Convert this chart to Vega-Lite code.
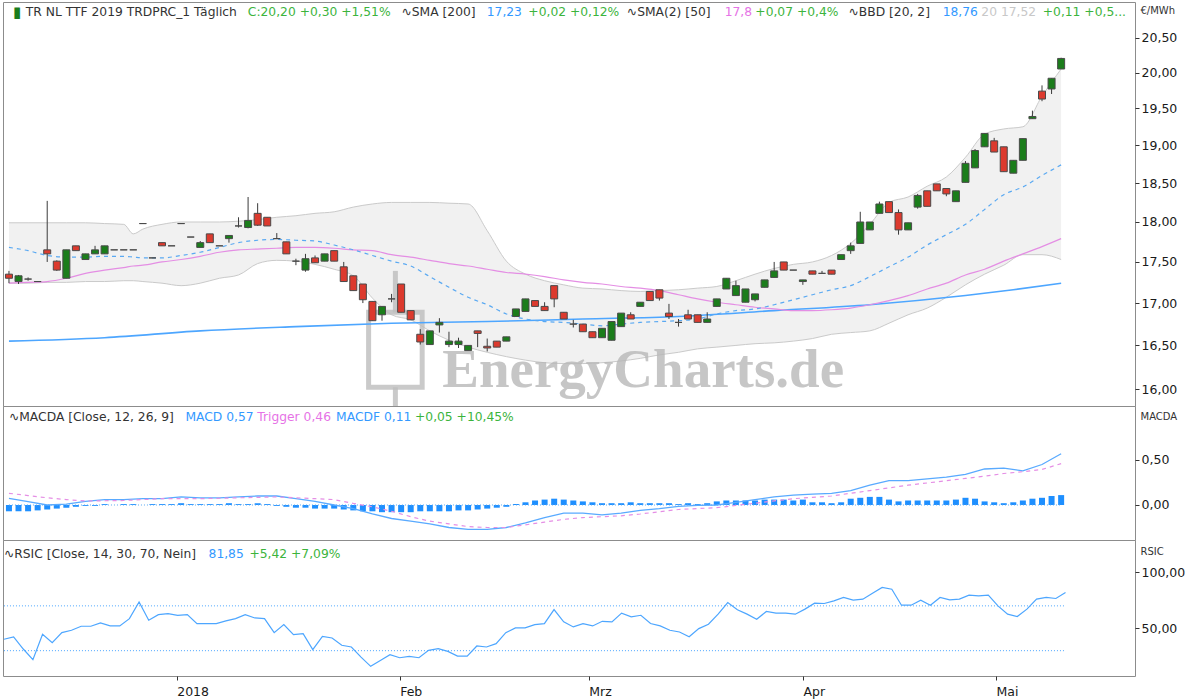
{
"$schema":"https://vega.github.io/schema/vega-lite/v6.json",
"background":"white",
"padding":{"left":1,"top":1,"right":2,"bottom":2},
"spacing":0,
"bounds":"flush",
"config":{
 "font":"DejaVu Sans",
 "view":{"stroke":"#8c8c8c","strokeWidth":1},
 "axis":{"grid":false,"domain":false,"tickSize":4,"tickColor":"#333","labelFont":"DejaVu Sans","labelFontSize":12.5,"labelColor":"#1a1a1a","labelPadding":2,"titleFont":"DejaVu Sans","titleFontSize":10,"titleFontWeight":"normal","titleColor":"#333"}
},
"datasets":{
 "candles":[
  {"i":0,"o":17.35,"h":17.39,"l":17.24,"c":17.30},
  {"i":1,"o":17.26,"h":17.34,"l":17.23,"c":17.33},
  {"i":2,"o":17.29,"h":17.31,"l":17.27,"c":17.29},
  {"i":3,"o":17.26,"h":17.26,"l":17.26,"c":17.26},
  {"i":4,"o":17.65,"h":18.27,"l":17.50,"c":17.60},
  {"i":5,"o":17.51,"h":17.52,"l":17.39,"c":17.40},
  {"i":6,"o":17.30,"h":17.65,"l":17.30,"c":17.65},
  {"i":7,"o":17.70,"h":17.70,"l":17.64,"c":17.64},
  {"i":8,"o":17.53,"h":17.60,"l":17.53,"c":17.60},
  {"i":9,"o":17.60,"h":17.70,"l":17.60,"c":17.65},
  {"i":10,"o":17.60,"h":17.70,"l":17.60,"c":17.70},
  {"i":11,"o":17.65,"h":17.65,"l":17.65,"c":17.65},
  {"i":12,"o":17.65,"h":17.65,"l":17.65,"c":17.65},
  {"i":13,"o":17.65,"h":17.65,"l":17.65,"c":17.65},
  {"i":14,"o":17.98,"h":17.98,"l":17.98,"c":17.98},
  {"i":15,"o":17.55,"h":17.55,"l":17.55,"c":17.55},
  {"i":16,"o":17.74,"h":17.74,"l":17.70,"c":17.70},
  {"i":17,"o":17.70,"h":17.70,"l":17.70,"c":17.70},
  {"i":18,"o":17.98,"h":17.98,"l":17.98,"c":17.98},
  {"i":19,"o":17.81,"h":17.81,"l":17.81,"c":17.81},
  {"i":20,"o":17.68,"h":17.76,"l":17.68,"c":17.74},
  {"i":21,"o":17.85,"h":17.85,"l":17.74,"c":17.74},
  {"i":22,"o":17.70,"h":17.70,"l":17.70,"c":17.70},
  {"i":23,"o":17.79,"h":17.83,"l":17.74,"c":17.83},
  {"i":24,"o":17.95,"h":18.06,"l":17.93,"c":17.95},
  {"i":25,"o":17.93,"h":18.32,"l":17.92,"c":18.02},
  {"i":26,"o":18.11,"h":18.24,"l":17.95,"c":17.96},
  {"i":27,"o":18.06,"h":18.06,"l":17.95,"c":17.95},
  {"i":28,"o":17.79,"h":17.86,"l":17.79,"c":17.79},
  {"i":29,"o":17.75,"h":17.75,"l":17.60,"c":17.60},
  {"i":30,"o":17.51,"h":17.54,"l":17.46,"c":17.51},
  {"i":31,"o":17.40,"h":17.60,"l":17.38,"c":17.54},
  {"i":32,"o":17.55,"h":17.58,"l":17.49,"c":17.49},
  {"i":33,"o":17.51,"h":17.60,"l":17.51,"c":17.60},
  {"i":34,"o":17.64,"h":17.64,"l":17.51,"c":17.51},
  {"i":35,"o":17.44,"h":17.50,"l":17.26,"c":17.26},
  {"i":36,"o":17.33,"h":17.33,"l":17.15,"c":17.15},
  {"i":37,"o":17.23,"h":17.23,"l":17.00,"c":17.04},
  {"i":38,"o":17.02,"h":17.02,"l":16.79,"c":16.79},
  {"i":39,"o":16.86,"h":16.96,"l":16.79,"c":16.96},
  {"i":40,"o":17.05,"h":17.11,"l":17.01,"c":17.05},
  {"i":41,"o":17.23,"h":17.23,"l":16.89,"c":16.89},
  {"i":42,"o":16.91,"h":16.91,"l":16.80,"c":16.80},
  {"i":43,"o":16.63,"h":16.69,"l":16.51,"c":16.54},
  {"i":44,"o":16.51,"h":16.67,"l":16.51,"c":16.67},
  {"i":45,"o":16.74,"h":16.82,"l":16.65,"c":16.77},
  {"i":46,"o":16.51,"h":16.66,"l":16.48,"c":16.55},
  {"i":47,"o":16.51,"h":16.59,"l":16.47,"c":16.55},
  {"i":48,"o":16.44,"h":16.50,"l":16.44,"c":16.50},
  {"i":49,"o":16.67,"h":16.67,"l":16.48,"c":16.64},
  {"i":50,"o":16.49,"h":16.58,"l":16.43,"c":16.47},
  {"i":51,"o":16.55,"h":16.55,"l":16.48,"c":16.48},
  {"i":52,"o":16.55,"h":16.60,"l":16.55,"c":16.60},
  {"i":53,"o":16.84,"h":16.93,"l":16.84,"c":16.93},
  {"i":54,"o":16.90,"h":17.05,"l":16.90,"c":17.05},
  {"i":55,"o":17.03,"h":17.03,"l":16.96,"c":16.96},
  {"i":56,"o":16.96,"h":17.01,"l":16.91,"c":16.91},
  {"i":57,"o":17.21,"h":17.21,"l":16.95,"c":17.05},
  {"i":58,"o":16.89,"h":16.89,"l":16.81,"c":16.81},
  {"i":59,"o":16.75,"h":16.80,"l":16.71,"c":16.75},
  {"i":60,"o":16.75,"h":16.75,"l":16.66,"c":16.66},
  {"i":61,"o":16.66,"h":16.66,"l":16.59,"c":16.59},
  {"i":62,"o":16.59,"h":16.70,"l":16.59,"c":16.70},
  {"i":63,"o":16.56,"h":16.78,"l":16.56,"c":16.78},
  {"i":64,"o":16.72,"h":16.88,"l":16.72,"c":16.88},
  {"i":65,"o":16.86,"h":16.89,"l":16.81,"c":16.81},
  {"i":66,"o":16.96,"h":17.01,"l":16.96,"c":17.01},
  {"i":67,"o":17.14,"h":17.14,"l":17.03,"c":17.03},
  {"i":68,"o":17.16,"h":17.16,"l":17.03,"c":17.06},
  {"i":69,"o":16.88,"h":16.99,"l":16.81,"c":16.84},
  {"i":70,"o":16.77,"h":16.81,"l":16.72,"c":16.77},
  {"i":71,"o":16.86,"h":16.92,"l":16.81,"c":16.81},
  {"i":72,"o":16.86,"h":16.86,"l":16.77,"c":16.77},
  {"i":73,"o":16.77,"h":16.89,"l":16.77,"c":16.81},
  {"i":74,"o":16.96,"h":17.05,"l":16.96,"c":17.05},
  {"i":75,"o":17.17,"h":17.30,"l":17.17,"c":17.30},
  {"i":76,"o":17.09,"h":17.27,"l":17.09,"c":17.21},
  {"i":77,"o":17.01,"h":17.17,"l":17.01,"c":17.17},
  {"i":78,"o":17.04,"h":17.11,"l":17.02,"c":17.11},
  {"i":79,"o":17.19,"h":17.28,"l":17.19,"c":17.28},
  {"i":80,"o":17.31,"h":17.50,"l":17.31,"c":17.39},
  {"i":81,"o":17.50,"h":17.50,"l":17.40,"c":17.40},
  {"i":82,"o":17.40,"h":17.40,"l":17.40,"c":17.40},
  {"i":83,"o":17.26,"h":17.28,"l":17.22,"c":17.28},
  {"i":84,"o":17.39,"h":17.39,"l":17.35,"c":17.35},
  {"i":85,"o":17.36,"h":17.39,"l":17.36,"c":17.36},
  {"i":86,"o":17.40,"h":17.40,"l":17.35,"c":17.35},
  {"i":87,"o":17.53,"h":17.59,"l":17.53,"c":17.59},
  {"i":88,"o":17.64,"h":17.74,"l":17.60,"c":17.70},
  {"i":89,"o":17.73,"h":18.13,"l":17.73,"c":18.00},
  {"i":90,"o":17.90,"h":18.00,"l":17.90,"c":18.00},
  {"i":91,"o":18.11,"h":18.26,"l":18.11,"c":18.23},
  {"i":92,"o":18.26,"h":18.26,"l":18.12,"c":18.12},
  {"i":93,"o":18.12,"h":18.16,"l":17.84,"c":17.90},
  {"i":94,"o":17.90,"h":17.99,"l":17.90,"c":17.99},
  {"i":95,"o":18.19,"h":18.36,"l":18.17,"c":18.34},
  {"i":96,"o":18.40,"h":18.40,"l":18.20,"c":18.20},
  {"i":97,"o":18.49,"h":18.49,"l":18.40,"c":18.40},
  {"i":98,"o":18.43,"h":18.43,"l":18.33,"c":18.36},
  {"i":99,"o":18.26,"h":18.40,"l":18.26,"c":18.40},
  {"i":100,"o":18.51,"h":18.79,"l":18.51,"c":18.76},
  {"i":101,"o":18.70,"h":18.95,"l":18.70,"c":18.93},
  {"i":102,"o":18.98,"h":19.16,"l":18.98,"c":19.16},
  {"i":103,"o":19.06,"h":19.10,"l":18.91,"c":18.91},
  {"i":104,"o":18.98,"h":18.98,"l":18.65,"c":18.65},
  {"i":105,"o":18.63,"h":18.80,"l":18.63,"c":18.80},
  {"i":106,"o":18.80,"h":19.09,"l":18.80,"c":19.09},
  {"i":107,"o":19.36,"h":19.47,"l":19.36,"c":19.39},
  {"i":108,"o":19.74,"h":19.82,"l":19.60,"c":19.63},
  {"i":109,"o":19.77,"h":19.92,"l":19.70,"c":19.92},
  {"i":110,"o":20.05,"h":20.21,"l":20.05,"c":20.20}
 ],
 "ind":[
  {"i":0,"u":17.99,"m":17.68,"lo":17.24,"s50":17.24},
  {"i":2,"u":17.99,"m":17.64,"lo":17.24,"s50":17.25},
  {"i":4,"u":17.99,"m":17.58,"lo":17.25,"s50":17.26},
  {"i":6,"u":17.99,"m":17.56,"lo":17.25,"s50":17.30},
  {"i":8,"u":17.99,"m":17.56,"lo":17.26,"s50":17.36},
  {"i":10,"u":17.98,"m":17.57,"lo":17.26,"s50":17.40},
  {"i":12,"u":17.97,"m":17.57,"lo":17.27,"s50":17.43},
  {"i":13,"u":17.85,"m":17.56,"lo":17.27,"s50":17.45},
  {"i":14,"u":17.91,"m":17.55,"lo":17.26,"s50":17.46},
  {"i":16,"u":17.97,"m":17.55,"lo":17.24,"s50":17.50},
  {"i":18,"u":18.00,"m":17.58,"lo":17.21,"s50":17.53},
  {"i":20,"u":18.00,"m":17.62,"lo":17.24,"s50":17.57},
  {"i":22,"u":18.00,"m":17.68,"lo":17.30,"s50":17.62},
  {"i":24,"u":18.01,"m":17.74,"lo":17.34,"s50":17.65},
  {"i":26,"u":18.03,"m":17.77,"lo":17.48,"s50":17.66},
  {"i":28,"u":18.06,"m":17.78,"lo":17.52,"s50":17.67},
  {"i":30,"u":18.08,"m":17.77,"lo":17.51,"s50":17.68},
  {"i":32,"u":18.11,"m":17.76,"lo":17.47,"s50":17.68},
  {"i":34,"u":18.13,"m":17.71,"lo":17.41,"s50":17.67},
  {"i":36,"u":18.19,"m":17.65,"lo":17.33,"s50":17.65},
  {"i":38,"u":18.23,"m":17.58,"lo":17.06,"s50":17.64},
  {"i":40,"u":18.25,"m":17.51,"lo":16.86,"s50":17.59},
  {"i":42,"u":18.25,"m":17.45,"lo":16.80,"s50":17.56},
  {"i":44,"u":18.25,"m":17.32,"lo":16.67,"s50":17.52},
  {"i":46,"u":18.24,"m":17.19,"lo":16.56,"s50":17.48},
  {"i":48,"u":18.23,"m":17.07,"lo":16.48,"s50":17.45},
  {"i":50,"u":17.89,"m":16.98,"lo":16.42,"s50":17.41},
  {"i":52,"u":17.51,"m":16.87,"lo":16.37,"s50":17.37},
  {"i":54,"u":17.35,"m":16.81,"lo":16.33,"s50":17.35},
  {"i":56,"u":17.27,"m":16.78,"lo":16.30,"s50":17.32},
  {"i":58,"u":17.22,"m":16.77,"lo":16.29,"s50":17.28},
  {"i":60,"u":17.18,"m":16.75,"lo":16.29,"s50":17.25},
  {"i":62,"u":17.17,"m":16.73,"lo":16.30,"s50":17.23},
  {"i":64,"u":17.15,"m":16.75,"lo":16.32,"s50":17.20},
  {"i":66,"u":17.14,"m":16.77,"lo":16.35,"s50":17.18},
  {"i":68,"u":17.15,"m":16.78,"lo":16.39,"s50":17.15},
  {"i":70,"u":17.16,"m":16.79,"lo":16.42,"s50":17.10},
  {"i":72,"u":17.18,"m":16.81,"lo":16.46,"s50":17.05},
  {"i":74,"u":17.20,"m":16.87,"lo":16.48,"s50":17.01},
  {"i":76,"u":17.27,"m":16.91,"lo":16.50,"s50":16.98},
  {"i":78,"u":17.35,"m":16.93,"lo":16.52,"s50":16.95},
  {"i":80,"u":17.42,"m":16.98,"lo":16.53,"s50":16.93},
  {"i":82,"u":17.47,"m":17.04,"lo":16.55,"s50":16.91},
  {"i":84,"u":17.50,"m":17.10,"lo":16.58,"s50":16.91},
  {"i":86,"u":17.58,"m":17.16,"lo":16.63,"s50":16.92},
  {"i":88,"u":17.73,"m":17.21,"lo":16.65,"s50":16.94},
  {"i":90,"u":17.97,"m":17.32,"lo":16.67,"s50":16.98},
  {"i":92,"u":18.25,"m":17.44,"lo":16.76,"s50":17.03},
  {"i":94,"u":18.32,"m":17.56,"lo":16.86,"s50":17.09},
  {"i":96,"u":18.46,"m":17.71,"lo":16.94,"s50":17.17},
  {"i":98,"u":18.58,"m":17.84,"lo":17.07,"s50":17.24},
  {"i":100,"u":18.84,"m":17.97,"lo":17.22,"s50":17.34},
  {"i":102,"u":19.15,"m":18.16,"lo":17.35,"s50":17.41},
  {"i":104,"u":19.22,"m":18.35,"lo":17.46,"s50":17.51},
  {"i":106,"u":19.25,"m":18.45,"lo":17.59,"s50":17.60},
  {"i":108,"u":19.67,"m":18.60,"lo":17.59,"s50":17.69},
  {"i":110,"u":20.05,"m":18.74,"lo":17.53,"s50":17.79}
 ],
 "sma200":[
  {"i":0,"v":16.55},{"i":10,"v":16.59},{"i":20,"v":16.67},{"i":30,"v":16.72},{"i":40,"v":16.76},{"i":50,"v":16.78},{"i":60,"v":16.81},{"i":70,"v":16.84},{"i":80,"v":16.91},{"i":90,"v":16.98},{"i":100,"v":17.09},{"i":105,"v":17.16},{"i":110,"v":17.24}
 ],
 "macd":[
  {"i":0,"macd":0.074,"trig":0.13},{"i":2,"macd":0.037,"trig":0.105},{"i":4,"macd":0.0,"trig":0.08},{"i":6,"macd":0.01,"trig":0.06},{"i":8,"macd":0.04,"trig":0.044},{"i":10,"macd":0.06,"trig":0.047},{"i":12,"macd":0.06,"trig":0.05},{"i":14,"macd":0.07,"trig":0.06},{"i":16,"macd":0.07,"trig":0.07},{"i":18,"macd":0.09,"trig":0.07},{"i":20,"macd":0.08,"trig":0.07},{"i":22,"macd":0.08,"trig":0.075},{"i":24,"macd":0.09,"trig":0.08},{"i":26,"macd":0.10,"trig":0.085},{"i":28,"macd":0.10,"trig":0.09},{"i":30,"macd":0.07,"trig":0.08},{"i":32,"macd":0.04,"trig":0.07},{"i":34,"macd":0.0,"trig":0.06},{"i":36,"macd":-0.04,"trig":0.017},{"i":38,"macd":-0.10,"trig":-0.02},{"i":40,"macd":-0.15,"trig":-0.07},{"i":42,"macd":-0.18,"trig":-0.13},{"i":44,"macd":-0.21,"trig":-0.18},{"i":46,"macd":-0.25,"trig":-0.21},{"i":48,"macd":-0.27,"trig":-0.24},{"i":50,"macd":-0.27,"trig":-0.25},{"i":52,"macd":-0.25,"trig":-0.25},{"i":54,"macd":-0.20,"trig":-0.22},{"i":56,"macd":-0.14,"trig":-0.19},{"i":58,"macd":-0.09,"trig":-0.16},{"i":60,"macd":-0.09,"trig":-0.14},{"i":62,"macd":-0.11,"trig":-0.13},{"i":64,"macd":-0.09,"trig":-0.12},{"i":66,"macd":-0.06,"trig":-0.10},{"i":68,"macd":-0.04,"trig":-0.075},{"i":70,"macd":-0.015,"trig":-0.05},{"i":72,"macd":-0.005,"trig":-0.04},{"i":74,"macd":0.0,"trig":-0.03},{"i":76,"macd":0.03,"trig":-0.005},{"i":78,"macd":0.06,"trig":0.02},{"i":80,"macd":0.09,"trig":0.045},{"i":82,"macd":0.11,"trig":0.07},{"i":84,"macd":0.12,"trig":0.085},{"i":86,"macd":0.13,"trig":0.10},{"i":88,"macd":0.16,"trig":0.13},{"i":90,"macd":0.22,"trig":0.16},{"i":92,"macd":0.27,"trig":0.19},{"i":94,"macd":0.27,"trig":0.22},{"i":96,"macd":0.29,"trig":0.245},{"i":98,"macd":0.31,"trig":0.27},{"i":100,"macd":0.34,"trig":0.295},{"i":102,"macd":0.40,"trig":0.32},{"i":104,"macd":0.41,"trig":0.35},{"i":106,"macd":0.38,"trig":0.37},{"i":108,"macd":0.45,"trig":0.395},{"i":110,"macd":0.57,"trig":0.46}
 ],
 "hist":[
  {"i":0,"h":-0.07},{"i":1,"h":-0.07},{"i":2,"h":-0.07},{"i":3,"h":-0.06},{"i":4,"h":-0.05},{"i":5,"h":-0.04},{"i":6,"h":-0.03},{"i":7,"h":-0.02},{"i":8,"h":-0.01},{"i":9,"h":-0.01},{"i":10,"h":0.01},{"i":11,"h":0.0},{"i":12,"h":0.01},{"i":13,"h":0.01},{"i":14,"h":0.0},{"i":15,"h":0.01},{"i":16,"h":0.01},{"i":17,"h":0.01},{"i":18,"h":0.02},{"i":19,"h":0.01},{"i":20,"h":0.01},{"i":21,"h":0.01},{"i":22,"h":0.01},{"i":23,"h":0.02},{"i":24,"h":0.01},{"i":25,"h":0.01},{"i":26,"h":0.02},{"i":27,"h":0.01},{"i":28,"h":-0.01},{"i":29,"h":-0.02},{"i":30,"h":-0.03},{"i":31,"h":-0.03},{"i":32,"h":-0.04},{"i":33,"h":-0.04},{"i":34,"h":-0.04},{"i":35,"h":-0.05},{"i":36,"h":-0.06},{"i":37,"h":-0.07},{"i":38,"h":-0.07},{"i":39,"h":-0.08},{"i":40,"h":-0.08},{"i":41,"h":-0.08},{"i":42,"h":-0.08},{"i":43,"h":-0.07},{"i":44,"h":-0.07},{"i":45,"h":-0.07},{"i":46,"h":-0.07},{"i":47,"h":-0.06},{"i":48,"h":-0.06},{"i":49,"h":-0.05},{"i":50,"h":-0.04},{"i":51,"h":-0.03},{"i":52,"h":-0.02},{"i":53,"h":0.01},{"i":54,"h":0.03},{"i":55,"h":0.05},{"i":56,"h":0.06},{"i":57,"h":0.07},{"i":58,"h":0.06},{"i":59,"h":0.05},{"i":60,"h":0.04},{"i":61,"h":0.03},{"i":62,"h":0.02},{"i":63,"h":0.02},{"i":64,"h":0.02},{"i":65,"h":0.03},{"i":66,"h":0.02},{"i":67,"h":0.02},{"i":68,"h":0.02},{"i":69,"h":0.02},{"i":70,"h":0.01},{"i":71,"h":0.02},{"i":72,"h":0.01},{"i":73,"h":0.02},{"i":74,"h":0.04},{"i":75,"h":0.05},{"i":76,"h":0.05},{"i":77,"h":0.05},{"i":78,"h":0.05},{"i":79,"h":0.06},{"i":80,"h":0.06},{"i":81,"h":0.06},{"i":82,"h":0.05},{"i":83,"h":0.06},{"i":84,"h":0.03},{"i":85,"h":0.03},{"i":86,"h":0.02},{"i":87,"h":0.03},{"i":88,"h":0.07},{"i":89,"h":0.08},{"i":90,"h":0.09},{"i":91,"h":0.09},{"i":92,"h":0.06},{"i":93,"h":0.04},{"i":94,"h":0.05},{"i":95,"h":0.05},{"i":96,"h":0.05},{"i":97,"h":0.05},{"i":98,"h":0.05},{"i":99,"h":0.06},{"i":100,"h":0.08},{"i":101,"h":0.07},{"i":102,"h":0.04},{"i":103,"h":0.03},{"i":104,"h":0.02},{"i":105,"h":0.03},{"i":106,"h":0.05},{"i":107,"h":0.07},{"i":108,"h":0.08},{"i":109,"h":0.10},{"i":110,"h":0.11}
 ],
 "rsi":[
  {"i":0,"r":40.2},{"i":1,"r":42.3},{"i":2,"r":31.5},{"i":3,"r":22},{"i":4,"r":44.6},{"i":5,"r":37.2},{"i":6,"r":46.1},{"i":7,"r":48.2},{"i":8,"r":51.8},{"i":9,"r":51.8},{"i":10,"r":54.8},{"i":11,"r":52.1},{"i":12,"r":52.1},{"i":13,"r":58.6},{"i":14,"r":73.5},{"i":15,"r":57.2},{"i":16,"r":62.2},{"i":17,"r":63.1},{"i":18,"r":61.6},{"i":19,"r":62.2},{"i":20,"r":54.2},{"i":21,"r":54.2},{"i":22,"r":54.2},{"i":23,"r":56.6},{"i":24,"r":58.6},{"i":25,"r":62.2},{"i":26,"r":59.2},{"i":27,"r":58.6},{"i":28,"r":46.1},{"i":29,"r":53.3},{"i":30,"r":44.3},{"i":31,"r":45.2},{"i":32,"r":30.9},{"i":33,"r":42.8},{"i":34,"r":41.3},{"i":35,"r":34.8},{"i":36,"r":33.3},{"i":37,"r":24.3},{"i":38,"r":16},{"i":39,"r":21.3},{"i":40,"r":26.4},{"i":41,"r":23.7},{"i":42,"r":24.9},{"i":43,"r":23.7},{"i":44,"r":30.3},{"i":45,"r":31.8},{"i":46,"r":29.4},{"i":47,"r":25.2},{"i":48,"r":25.2},{"i":49,"r":34.2},{"i":50,"r":33.3},{"i":51,"r":36.3},{"i":52,"r":46.1},{"i":53,"r":50.3},{"i":54,"r":50.3},{"i":55,"r":53.3},{"i":56,"r":54.2},{"i":57,"r":66.7},{"i":58,"r":55.7},{"i":59,"r":51.2},{"i":60,"r":54.2},{"i":61,"r":52.1},{"i":62,"r":56.2},{"i":63,"r":55.7},{"i":64,"r":63.5},{"i":65,"r":60.2},{"i":66,"r":61.6},{"i":67,"r":54.2},{"i":68,"r":52.1},{"i":69,"r":48.2},{"i":70,"r":46.7},{"i":71,"r":42.5},{"i":72,"r":49.7},{"i":73,"r":53.6},{"i":74,"r":62.6},{"i":75,"r":73},{"i":76,"r":66.5},{"i":77,"r":62.6},{"i":78,"r":58.1},{"i":79,"r":65},{"i":80,"r":63.5},{"i":81,"r":63.5},{"i":82,"r":62.6},{"i":83,"r":67.1},{"i":84,"r":72.4},{"i":85,"r":72.1},{"i":86,"r":74.5},{"i":87,"r":77.5},{"i":88,"r":75.1},{"i":89,"r":76},{"i":90,"r":81.3},{"i":91,"r":86.4},{"i":92,"r":84.9},{"i":93,"r":70.6},{"i":94,"r":70.6},{"i":95,"r":75.1},{"i":96,"r":70.6},{"i":97,"r":77.5},{"i":98,"r":75.4},{"i":99,"r":76},{"i":100,"r":79.6},{"i":101,"r":79},{"i":102,"r":79.6},{"i":103,"r":70},{"i":104,"r":62.6},{"i":105,"r":60.5},{"i":106,"r":67.1},{"i":107,"r":76},{"i":108,"r":77.5},{"i":109,"r":76.6},{"i":110,"r":81.85}
 ]
},
"resolve":{"scale":{"x":"independent","y":"independent"}},
"vconcat":[
 {
  "width":1132,"height":404,
  "layer":[
   {"data":{"name":"ind"},"mark":{"type":"area","color":"#f1f1f1","interpolate":"monotone"},
    "encoding":{"x":{"field":"i","type":"quantitative","scale":{"domain":[-0.1,117.2],"nice":false,"zero":false},"axis":null},
     "y":{"field":"u","type":"quantitative","scale":{"type":"log","domain":[15.81,21.02],"nice":false,"zero":false},"axis":{"orient":"right","values":[16,16.5,17,17.5,18,18.5,19,19.5,20,20.5],"labelExpr":"replace(format(datum.value,'.2f'),'.',',')","title":"€/MWh","titleAngle":0,"titleAlign":"left","titleBaseline":"middle","titleX":5,"titleY":8}},"y2":{"field":"lo"}}},
   {"data":{"name":"ind"},"mark":{"type":"line","color":"#cacaca","strokeWidth":1,"interpolate":"monotone"},
    "encoding":{"x":{"field":"i","type":"quantitative","scale":{"domain":[-0.1,117.2],"nice":false,"zero":false},"axis":null},"y":{"field":"u","type":"quantitative","scale":{"type":"log","domain":[15.81,21.02],"nice":false,"zero":false}}}},
   {"data":{"name":"ind"},"mark":{"type":"line","color":"#cacaca","strokeWidth":1,"interpolate":"monotone"},
    "encoding":{"x":{"field":"i","type":"quantitative","scale":{"domain":[-0.1,117.2],"nice":false,"zero":false},"axis":null},"y":{"field":"lo","type":"quantitative","scale":{"type":"log","domain":[15.81,21.02],"nice":false,"zero":false}}}},
   {"data":{"values":[{}]},"mark":{"type":"rect","filled":false,"stroke":"#bdbdbd","strokeWidth":5,"opacity":0.8},
    "encoding":{"x":{"datum":37.6,"type":"quantitative","scale":{"domain":[-0.1,117.2],"nice":false,"zero":false},"axis":null},"x2":{"datum":43.2},"y":{"datum":16.02,"type":"quantitative","scale":{"type":"log","domain":[15.81,21.02],"nice":false,"zero":false}},"y2":{"datum":16.89}}},
   {"data":{"values":[{}]},"mark":{"type":"rule","color":"#bdbdbd","strokeWidth":5,"opacity":0.8,"clip":true},
    "encoding":{"x":{"datum":40.4,"type":"quantitative","scale":{"domain":[-0.1,117.2],"nice":false,"zero":false},"axis":null},"y":{"datum":16.89,"type":"quantitative","scale":{"type":"log","domain":[15.81,21.02],"nice":false,"zero":false}},"y2":{"datum":17.39}}},
   {"data":{"values":[{}]},"mark":{"type":"rule","color":"#bdbdbd","strokeWidth":5,"opacity":0.8,"clip":true},
    "encoding":{"x":{"datum":40.4,"type":"quantitative","scale":{"domain":[-0.1,117.2],"nice":false,"zero":false},"axis":null},"y":{"datum":15.6,"type":"quantitative","scale":{"type":"log","domain":[15.81,21.02],"nice":false,"zero":false}},"y2":{"datum":16.02}}},
   {"data":{"values":[{}]},"mark":{"type":"text","align":"left","baseline":"alphabetic","font":"Liberation Serif","fontSize":55,"fontWeight":"bold","color":"#b8b8b8","opacity":0.8,"clip":true},
    "encoding":{"x":{"datum":45.3,"type":"quantitative","scale":{"domain":[-0.1,117.2],"nice":false,"zero":false},"axis":null},"y":{"datum":16.02,"type":"quantitative","scale":{"type":"log","domain":[15.81,21.02],"nice":false,"zero":false}},"text":{"value":"EnergyCharts.de"}}},
   {"data":{"name":"sma200"},"mark":{"type":"line","color":"#4da6ff","strokeWidth":1.6,"interpolate":"monotone"},
    "encoding":{"x":{"field":"i","type":"quantitative","scale":{"domain":[-0.1,117.2],"nice":false,"zero":false},"axis":null},"y":{"field":"v","type":"quantitative","scale":{"type":"log","domain":[15.81,21.02],"nice":false,"zero":false}}}},
   {"data":{"name":"ind"},"mark":{"type":"line","color":"#e48ee4","strokeWidth":1.2,"interpolate":"monotone"},
    "encoding":{"x":{"field":"i","type":"quantitative","scale":{"domain":[-0.1,117.2],"nice":false,"zero":false},"axis":null},"y":{"field":"s50","type":"quantitative","scale":{"type":"log","domain":[15.81,21.02],"nice":false,"zero":false}}}},
   {"data":{"name":"ind"},"mark":{"type":"line","color":"#5aa9f2","strokeWidth":1.2,"strokeDash":[4,4],"interpolate":"monotone"},
    "encoding":{"x":{"field":"i","type":"quantitative","scale":{"domain":[-0.1,117.2],"nice":false,"zero":false},"axis":null},"y":{"field":"m","type":"quantitative","scale":{"type":"log","domain":[15.81,21.02],"nice":false,"zero":false}}}},
   {"data":{"name":"candles"},"mark":{"type":"rule","color":"#3a3a3a","strokeWidth":1,"clip":true},
    "encoding":{"x":{"field":"i","type":"quantitative","scale":{"domain":[-0.1,117.2],"nice":false,"zero":false},"axis":null},"y":{"field":"l","type":"quantitative","scale":{"type":"log","domain":[15.81,21.02],"nice":false,"zero":false}},"y2":{"field":"h"}}},
   {"data":{"name":"candles"},"mark":{"type":"bar","width":7,"stroke":"#4a4a4a","strokeWidth":1,"clip":true},
    "encoding":{"x":{"field":"i","type":"quantitative","scale":{"domain":[-0.1,117.2],"nice":false,"zero":false},"axis":null},"y":{"field":"o","type":"quantitative","scale":{"type":"log","domain":[15.81,21.02],"nice":false,"zero":false}},"y2":{"field":"c"},
     "color":{"condition":{"test":"datum.c > datum.o","value":"#1b7d1b"},"value":"#dc3a2e"}}},
   {"data":{"values":[{}]},"mark":{"type":"text","align":"center","baseline":"middle","fontSize":15,"color":"#1b7d1b"},
    "encoding":{"x":{"datum":0.85,"type":"quantitative","scale":{"domain":[-0.1,117.2],"nice":false,"zero":false},"axis":null},"y":{"datum":20.87,"type":"quantitative","scale":{"type":"log","domain":[15.81,21.02],"nice":false,"zero":false}},"text":{"value":"▮"}}},
   {"data":{"values":[{}]},"mark":{"type":"text","align":"left","baseline":"middle","fontSize":12.3,"color":"#333333"},
    "encoding":{"x":{"datum":1.76,"type":"quantitative","scale":{"domain":[-0.1,117.2],"nice":false,"zero":false},"axis":null},"y":{"datum":20.87,"type":"quantitative","scale":{"type":"log","domain":[15.81,21.02],"nice":false,"zero":false}},"text":{"value":"TR NL TTF 2019 TRDPRC_1 Täglich"}}},
   {"data":{"values":[{}]},"mark":{"type":"text","align":"left","baseline":"middle","fontSize":12.3,"color":"#3cb43c"},
    "encoding":{"x":{"datum":24.97,"type":"quantitative","scale":{"domain":[-0.1,117.2],"nice":false,"zero":false},"axis":null},"y":{"datum":20.87,"type":"quantitative","scale":{"type":"log","domain":[15.81,21.02],"nice":false,"zero":false}},"text":{"value":"C:20,20 +0,30 +1,51%"}}},
   {"data":{"values":[{}]},"mark":{"type":"text","align":"left","baseline":"middle","fontSize":12.3,"color":"#333333"},
    "encoding":{"x":{"datum":41.04,"type":"quantitative","scale":{"domain":[-0.1,117.2],"nice":false,"zero":false},"axis":null},"y":{"datum":20.87,"type":"quantitative","scale":{"type":"log","domain":[15.81,21.02],"nice":false,"zero":false}},"text":{"value":"∿SMA [200]"}}},
   {"data":{"values":[{}]},"mark":{"type":"text","align":"left","baseline":"middle","fontSize":12.3,"color":"#3399ff"},
    "encoding":{"x":{"datum":49.95,"type":"quantitative","scale":{"domain":[-0.1,117.2],"nice":false,"zero":false},"axis":null},"y":{"datum":20.87,"type":"quantitative","scale":{"type":"log","domain":[15.81,21.02],"nice":false,"zero":false}},"text":{"value":"17,23"}}},
   {"data":{"values":[{}]},"mark":{"type":"text","align":"left","baseline":"middle","fontSize":12.3,"color":"#3cb43c"},
    "encoding":{"x":{"datum":54.3,"type":"quantitative","scale":{"domain":[-0.1,117.2],"nice":false,"zero":false},"axis":null},"y":{"datum":20.87,"type":"quantitative","scale":{"type":"log","domain":[15.81,21.02],"nice":false,"zero":false}},"text":{"value":"+0,02 +0,12%"}}},
   {"data":{"values":[{}]},"mark":{"type":"text","align":"left","baseline":"middle","fontSize":12.3,"color":"#333333"},
    "encoding":{"x":{"datum":64.6,"type":"quantitative","scale":{"domain":[-0.1,117.2],"nice":false,"zero":false},"axis":null},"y":{"datum":20.87,"type":"quantitative","scale":{"type":"log","domain":[15.81,21.02],"nice":false,"zero":false}},"text":{"value":"∿SMA(2) [50]"}}},
   {"data":{"values":[{}]},"mark":{"type":"text","align":"left","baseline":"middle","fontSize":12.3,"color":"#e673e6"},
    "encoding":{"x":{"datum":74.82,"type":"quantitative","scale":{"domain":[-0.1,117.2],"nice":false,"zero":false},"axis":null},"y":{"datum":20.87,"type":"quantitative","scale":{"type":"log","domain":[15.81,21.02],"nice":false,"zero":false}},"text":{"value":"17,8"}}},
   {"data":{"values":[{}]},"mark":{"type":"text","align":"left","baseline":"middle","fontSize":12.3,"color":"#3cb43c"},
    "encoding":{"x":{"datum":78.03,"type":"quantitative","scale":{"domain":[-0.1,117.2],"nice":false,"zero":false},"axis":null},"y":{"datum":20.87,"type":"quantitative","scale":{"type":"log","domain":[15.81,21.02],"nice":false,"zero":false}},"text":{"value":"+0,07 +0,4%"}}},
   {"data":{"values":[{}]},"mark":{"type":"text","align":"left","baseline":"middle","fontSize":12.3,"color":"#333333"},
    "encoding":{"x":{"datum":87.77,"type":"quantitative","scale":{"domain":[-0.1,117.2],"nice":false,"zero":false},"axis":null},"y":{"datum":20.87,"type":"quantitative","scale":{"type":"log","domain":[15.81,21.02],"nice":false,"zero":false}},"text":{"value":"∿BBD [20, 2]"}}},
   {"data":{"values":[{}]},"mark":{"type":"text","align":"left","baseline":"middle","fontSize":12.3,"color":"#3399ff"},
    "encoding":{"x":{"datum":97.62,"type":"quantitative","scale":{"domain":[-0.1,117.2],"nice":false,"zero":false},"axis":null},"y":{"datum":20.87,"type":"quantitative","scale":{"type":"log","domain":[15.81,21.02],"nice":false,"zero":false}},"text":{"value":"18,76"}}},
   {"data":{"values":[{}]},"mark":{"type":"text","align":"left","baseline":"middle","fontSize":12.3,"color":"#c8c8c8"},
    "encoding":{"x":{"datum":101.66,"type":"quantitative","scale":{"domain":[-0.1,117.2],"nice":false,"zero":false},"axis":null},"y":{"datum":20.87,"type":"quantitative","scale":{"type":"log","domain":[15.81,21.02],"nice":false,"zero":false}},"text":{"value":"20 17,52"}}},
   {"data":{"values":[{}]},"mark":{"type":"text","align":"left","baseline":"middle","fontSize":12.3,"color":"#3cb43c"},
    "encoding":{"x":{"datum":108.08,"type":"quantitative","scale":{"domain":[-0.1,117.2],"nice":false,"zero":false},"axis":null},"y":{"datum":20.87,"type":"quantitative","scale":{"type":"log","domain":[15.81,21.02],"nice":false,"zero":false}},"text":{"value":"+0,11 +0,5..."}}}
  ]
 },
 {
  "width":1132,"height":134,
  "resolve":{"axis":{"x":"independent","y":"independent"}},
  "layer":[
   {"data":{"name":"hist"},"mark":{"type":"bar","width":6,"color":"#1e8fff","clip":true},
    "encoding":{"x":{"field":"i","type":"quantitative","scale":{"domain":[-0.1,117.2],"nice":false,"zero":false},"axis":null},
     "y":{"field":"h","type":"quantitative","scale":{"domain":[-0.389,1.1],"nice":false,"zero":false},"axis":{"orient":"right","values":[0,0.5],"labelExpr":"replace(format(datum.value,'.2f'),'.',',')","title":"MACDA","titleAngle":0,"titleAlign":"left","titleBaseline":"middle","titleX":5,"titleY":10}},"y2":{"datum":0}}},
   {"data":{"values":[{}]},"mark":{"type":"rule","color":"#5aa9f2","strokeWidth":1,"strokeDash":[1,2]},
    "encoding":{"x":{"datum":0,"type":"quantitative","scale":{"domain":[-0.1,117.2],"nice":false,"zero":false},"axis":null},"x2":{"datum":110},"y":{"datum":0,"type":"quantitative","scale":{"domain":[-0.389,1.1],"nice":false,"zero":false},"axis":null}}},
   {"data":{"name":"macd"},"mark":{"type":"line","color":"#59aaff","strokeWidth":1.3},
    "encoding":{"x":{"field":"i","type":"quantitative","scale":{"domain":[-0.1,117.2],"nice":false,"zero":false},"axis":null},"y":{"field":"macd","type":"quantitative","scale":{"domain":[-0.389,1.1],"nice":false,"zero":false},"axis":null}}},
   {"data":{"name":"macd"},"mark":{"type":"line","color":"#e58ee5","strokeWidth":1.2,"strokeDash":[4,4]},
    "encoding":{"x":{"field":"i","type":"quantitative","scale":{"domain":[-0.1,117.2],"nice":false,"zero":false},"axis":null},"y":{"field":"trig","type":"quantitative","scale":{"domain":[-0.389,1.1],"nice":false,"zero":false},"axis":null}}},
   {"data":{"values":[{}]},"mark":{"type":"text","align":"left","baseline":"middle","fontSize":12.3,"color":"#333333"},
    "encoding":{"x":{"datum":0,"type":"quantitative","scale":{"domain":[-0.1,117.2],"nice":false,"zero":false},"axis":null},"y":{"datum":0.978,"type":"quantitative","scale":{"domain":[-0.389,1.1],"nice":false,"zero":false},"axis":null},"text":{"value":"∿MACDA [Close, 12, 26, 9]"}}},
   {"data":{"values":[{}]},"mark":{"type":"text","align":"left","baseline":"middle","fontSize":12.3,"color":"#3399ff"},
    "encoding":{"x":{"datum":18.45,"type":"quantitative","scale":{"domain":[-0.1,117.2],"nice":false,"zero":false},"axis":null},"y":{"datum":0.978,"type":"quantitative","scale":{"domain":[-0.389,1.1],"nice":false,"zero":false},"axis":null},"text":{"value":"MACD 0,57"}}},
   {"data":{"values":[{}]},"mark":{"type":"text","align":"left","baseline":"middle","fontSize":12.3,"color":"#e673e6"},
    "encoding":{"x":{"datum":25.96,"type":"quantitative","scale":{"domain":[-0.1,117.2],"nice":false,"zero":false},"axis":null},"y":{"datum":0.978,"type":"quantitative","scale":{"domain":[-0.389,1.1],"nice":false,"zero":false},"axis":null},"text":{"value":"Trigger 0,46"}}},
   {"data":{"values":[{}]},"mark":{"type":"text","align":"left","baseline":"middle","fontSize":12.3,"color":"#3399ff"},
    "encoding":{"x":{"datum":34.2,"type":"quantitative","scale":{"domain":[-0.1,117.2],"nice":false,"zero":false},"axis":null},"y":{"datum":0.978,"type":"quantitative","scale":{"domain":[-0.389,1.1],"nice":false,"zero":false},"axis":null},"text":{"value":"MACDF 0,11"}}},
   {"data":{"values":[{}]},"mark":{"type":"text","align":"left","baseline":"middle","fontSize":12.3,"color":"#3cb43c"},
    "encoding":{"x":{"datum":42.45,"type":"quantitative","scale":{"domain":[-0.1,117.2],"nice":false,"zero":false},"axis":null},"y":{"datum":0.978,"type":"quantitative","scale":{"domain":[-0.389,1.1],"nice":false,"zero":false},"axis":null},"text":{"value":"+0,05 +10,45%"}}}
  ]
 },
 {
  "width":1132,"height":136,
  "layer":[
   {"data":{"name":"rsi"},"mark":{"type":"line","color":"#4da6ff","strokeWidth":1.2},
    "encoding":{"x":{"field":"i","type":"quantitative","scale":{"domain":[-0.1,117.2],"nice":false,"zero":false},"axis":{"orient":"bottom","values":[17.9,41,60.6,82.8,102.8],"labelExpr":"datum.value < 30 ? '2018' : datum.value < 50 ? 'Feb' : datum.value < 70 ? 'Mrz' : datum.value < 90 ? 'Apr' : 'Mai'","labelAlign":"left","labelBaseline":"top","labelPadding":5,"labelFlush":false,"labelOverlap":false,"title":null}},
     "y":{"field":"r","type":"quantitative","scale":{"domain":[7.4,128.8],"nice":false,"zero":false},"axis":{"orient":"right","values":[50,100],"labelExpr":"replace(format(datum.value,'.2f'),'.',',')","title":"RSIC","titleAngle":0,"titleAlign":"left","titleBaseline":"middle","titleX":5,"titleY":11}}}},
   {"data":{"values":[{}]},"mark":{"type":"rule","color":"#4da6ff","strokeWidth":1,"strokeDash":[1,2]},
    "encoding":{"x":{"datum":0,"type":"quantitative","scale":{"domain":[-0.1,117.2],"nice":false,"zero":false}},"x2":{"datum":110},"y":{"datum":70,"type":"quantitative","scale":{"domain":[7.4,128.8],"nice":false,"zero":false}}}},
   {"data":{"values":[{}]},"mark":{"type":"rule","color":"#4da6ff","strokeWidth":1,"strokeDash":[1,2]},
    "encoding":{"x":{"datum":0,"type":"quantitative","scale":{"domain":[-0.1,117.2],"nice":false,"zero":false}},"x2":{"datum":110},"y":{"datum":30,"type":"quantitative","scale":{"domain":[7.4,128.8],"nice":false,"zero":false}}}},
   {"data":{"values":[{}]},"mark":{"type":"text","align":"left","baseline":"middle","fontSize":12.3,"color":"#333333"},
    "encoding":{"x":{"datum":0,"type":"quantitative","scale":{"domain":[-0.1,117.2],"nice":false,"zero":false}},"y":{"datum":116.3,"type":"quantitative","scale":{"domain":[7.4,128.8],"nice":false,"zero":false}},"text":{"value":"∿RSIC [Close, 14, 30, 70, Nein]"}}},
   {"data":{"values":[{}]},"mark":{"type":"text","align":"left","baseline":"middle","fontSize":12.3,"color":"#3399ff"},
    "encoding":{"x":{"datum":21.2,"type":"quantitative","scale":{"domain":[-0.1,117.2],"nice":false,"zero":false}},"y":{"datum":116.3,"type":"quantitative","scale":{"domain":[7.4,128.8],"nice":false,"zero":false}},"text":{"value":"81,85"}}},
   {"data":{"values":[{}]},"mark":{"type":"text","align":"left","baseline":"middle","fontSize":12.3,"color":"#3cb43c"},
    "encoding":{"x":{"datum":25.44,"type":"quantitative","scale":{"domain":[-0.1,117.2],"nice":false,"zero":false}},"y":{"datum":116.3,"type":"quantitative","scale":{"domain":[7.4,128.8],"nice":false,"zero":false}},"text":{"value":"+5,42 +7,09%"}}}
  ]
 }
]
}
